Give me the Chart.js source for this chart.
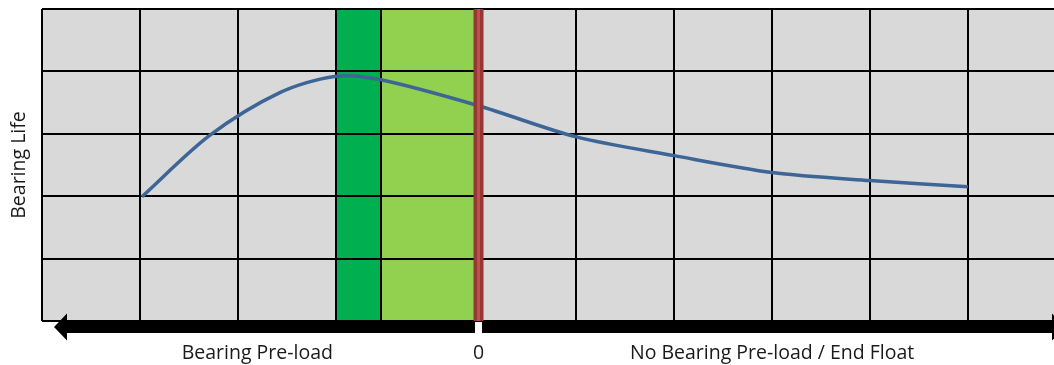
<!DOCTYPE html>
<html>
<head>
<meta charset="utf-8">
<script src="https://cdn.jsdelivr.net/npm/chart.js@4"></script>
<style>
    body { margin: 0; background: #ffffff; }
    #wrap { width: 1054px; height: 365px; position: relative; }
</style>
</head>
<body>
<div id="wrap"><canvas id="chart"></canvas></div>
<script>
// x in grid cells, 0 = no pre-load; y in grid rows
const xMin = -4.46
const xMax = 5.88
const gridX = [-4.46, -3.46, -2.46, -1.46, -1, 0, 1, 2, 3, 4, 5]
const curveX = [-3.44, -2.75, -2.03, -1.47, -1.01, 0, 1, 2, 3, 4, 5]
const curveY = [1.99, 2.97, 3.66, 3.92, 3.87, 3.45, 2.95, 2.65, 2.38, 2.25, 2.15]
const darkBand = [-1.46, -1]
const lightBand = [-1, 0]
const zeroLine = [0, 0]
const zeroLineY = [0, 5]
const labelX = [-2.26, 0, 3.0]
const labelText = ['Bearing Pre-load', '0', 'No Bearing Pre-load / End Float']

const fontFamily = '"Open Sans", "Liberation Sans", sans-serif'

const toPoints = (xs, ys) => xs.map((x, i) => ({ x: x, y: ys[i] }))

const backdrop = {
    id: 'backdrop',
    beforeDraw(chart) {
        const { ctx, chartArea } = chart
        const x = chart.scales.x
        ctx.save()
        ctx.fillStyle = '#d9d9d9'
        ctx.fillRect(chartArea.left, chartArea.top, chartArea.right - chartArea.left, chartArea.bottom - chartArea.top)
        const band = (range, color) => {
            const x0 = x.getPixelForValue(range[0])
            const x1 = x.getPixelForValue(range[1])
            ctx.fillStyle = color
            ctx.fillRect(x0, chartArea.top, x1 - x0, chartArea.bottom - chartArea.top)
        }
        band(darkBand, '#00b050')
        band(lightBand, '#92d050')
        ctx.restore()
    },
    afterDraw(chart) {
        // the two arrows under the plot
        const { ctx, chartArea } = chart
        const zero = chart.scales.x.getPixelForValue(0)
        const yMid = chartArea.bottom + 6
        const half = 6
        const head = 13.5
        ctx.save()
        ctx.fillStyle = '#000000'
        const tipL = chartArea.left + 12
        ctx.fillRect(tipL + 13, yMid - half, zero - 3.5 - (tipL + 13), half * 2)
        ctx.beginPath()
        ctx.moveTo(tipL, yMid)
        ctx.lineTo(tipL + 13, yMid - head)
        ctx.lineTo(tipL + 13, yMid + head)
        ctx.closePath()
        ctx.fill()
        const baseR = chartArea.right - 2
        ctx.fillRect(zero + 3.5, yMid - half, baseR - zero - 3.5, half * 2)
        ctx.beginPath()
        ctx.moveTo(baseR + 13, yMid)
        ctx.lineTo(baseR, yMid - head)
        ctx.lineTo(baseR, yMid + head)
        ctx.closePath()
        ctx.fill()
        ctx.restore()
    }
}

new Chart(document.getElementById('chart'), {
    type: 'scatter',
    data: {
        datasets: [
            {
                data: toPoints(zeroLine, zeroLineY),
                showLine: true,
                borderColor: '#c0504d',
                borderWidth: 3,
                pointRadius: 0,
                clip: false
            },
            {
                data: toPoints(zeroLine, zeroLineY),
                showLine: true,
                borderColor: '#953735',
                borderWidth: 10,
                pointRadius: 0,
                clip: false
            },
            {
                data: toPoints(curveX, curveY),
                showLine: true,
                borderColor: '#3d6596',
                borderWidth: 3.5,
                pointRadius: 0,
                tension: 0.3
            }
        ]
    },
    options: {
        responsive: true,
        maintainAspectRatio: false,
        animation: false,
        events: [],
        layout: {
            padding: { top: 9, bottom: 0, left: 0, right: 0 }
        },
        plugins: {
            legend: { display: false },
            tooltip: { enabled: false }
        },
        scales: {
            x: {
                type: 'linear',
                position: 'bottom',
                weight: 0,
                min: xMin,
                max: xMax,
                afterBuildTicks: axis => { axis.ticks = gridX.map(v => ({ value: v })) },
                ticks: { display: false },
                grid: { color: '#000000', lineWidth: 2, drawTicks: false },
                border: { display: false }
            },
            xLabels: {
                type: 'linear',
                position: 'bottom',
                weight: 1,
                min: xMin,
                max: xMax,
                afterBuildTicks: axis => { axis.ticks = labelX.map(v => ({ value: v })) },
                afterFit: axis => { axis.height = 44 },
                ticks: {
                    autoSkip: false,
                    maxRotation: 0,
                    padding: 20.3,
                    color: '#1a1a1a',
                    font: { family: fontFamily, size: 19.5 },
                    callback: (value, index) => labelText[index]
                },
                grid: { display: false, drawTicks: false },
                border: { display: false }
            },
            y: {
                min: 0,
                max: 5,
                ticks: { display: false, stepSize: 1 },
                grid: { color: '#000000', lineWidth: 2, drawTicks: false },
                border: { display: false },
                title: {
                    display: true,
                    text: 'Bearing Life',
                    color: '#1a1a1a',
                    font: { family: fontFamily, size: 19.5 },
                    padding: { top: 7.3, bottom: 11.3 }
                }
            }
        }
    },
    plugins: [backdrop]
})
</script>
</body>
</html>
